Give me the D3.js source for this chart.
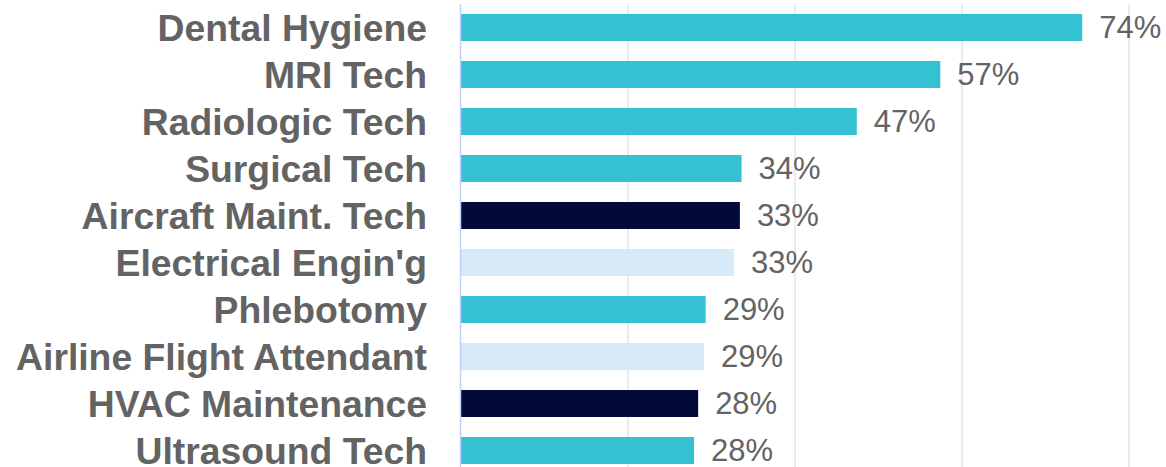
<!DOCTYPE html>
<html><head><meta charset="utf-8">
<script src="https://cdn.jsdelivr.net/npm/d3@7"></script>
<style>html,body{margin:0;padding:0;background:#fff;}svg{display:block;}</style>
</head><body>
<svg id="chart" width="1166" height="467"></svg>
<script>
const categories = ["Dental Hygiene","MRI Tech","Radiologic Tech","Surgical Tech","Aircraft Maint. Tech","Electrical Engin'g","Phlebotomy","Airline Flight Attendant","HVAC Maintenance","Ultrasound Tech"];
const values = [74.4, 57.4, 47.4, 33.6, 33.4, 32.7, 29.3, 29.1, 28.4, 27.9];
const groups = ["health","health","health","health","trade","other","health","other","trade","health"];
const gridTicks = [20, 40, 60, 80];

const groupColor = {health:"#33c1d3", trade:"#020a3a", other:"#d6eaf8"};

const svg = d3.select("#chart");
const x = d3.scaleLinear().domain([0, 80]).range([461, 1129]);
const y = d3.scaleBand().domain(categories).range([4, 474]).paddingInner(0.426).paddingOuter(0.213);

// gridlines
svg.append("g").selectAll("line").data(gridTicks).join("line")
  .attr("x1", d => x(d)).attr("x2", d => x(d))
  .attr("y1", 4).attr("y2", 467)
  .attr("stroke", "#ebebeb").attr("stroke-width", 2);

// bars
svg.append("g").selectAll("rect").data(categories).join("rect")
  .attr("x", x(0))
  .attr("y", d => y(d))
  .attr("height", y.bandwidth())
  .attr("width", (d, i) => x(values[i]) - x(0))
  .attr("fill", (d, i) => groupColor[groups[i]]);

// axis line
svg.append("line").attr("x1", 460.5).attr("x2", 460.5).attr("y1", 4).attr("y2", 467)
  .attr("stroke", "#c5cdfa").attr("stroke-width", 1.5);

// category labels
svg.append("g").selectAll("text").data(categories).join("text")
  .attr("x", 427)
  .attr("y", d => y(d) + y.bandwidth() / 2)
  .attr("dy", "0.35em")
  .attr("text-anchor", "end")
  .attr("font-family", "Liberation Sans, Arial, sans-serif")
  .attr("font-weight", "bold")
  .attr("font-size", 37.3)
  .attr("fill", "#636363")
  .text(d => d);

// value labels
svg.append("g").selectAll("text").data(categories).join("text")
  .attr("x", (d, i) => x(values[i]) + 17)
  .attr("y", d => y(d) + y.bandwidth() / 2)
  .attr("dy", "0.35em")
  .attr("font-family", "Liberation Sans, Arial, sans-serif")
  .attr("font-size", 31)
  .attr("fill", "#636363")
  .text((d, i) => Math.round(values[i]) + "%");
</script>
</body></html>
